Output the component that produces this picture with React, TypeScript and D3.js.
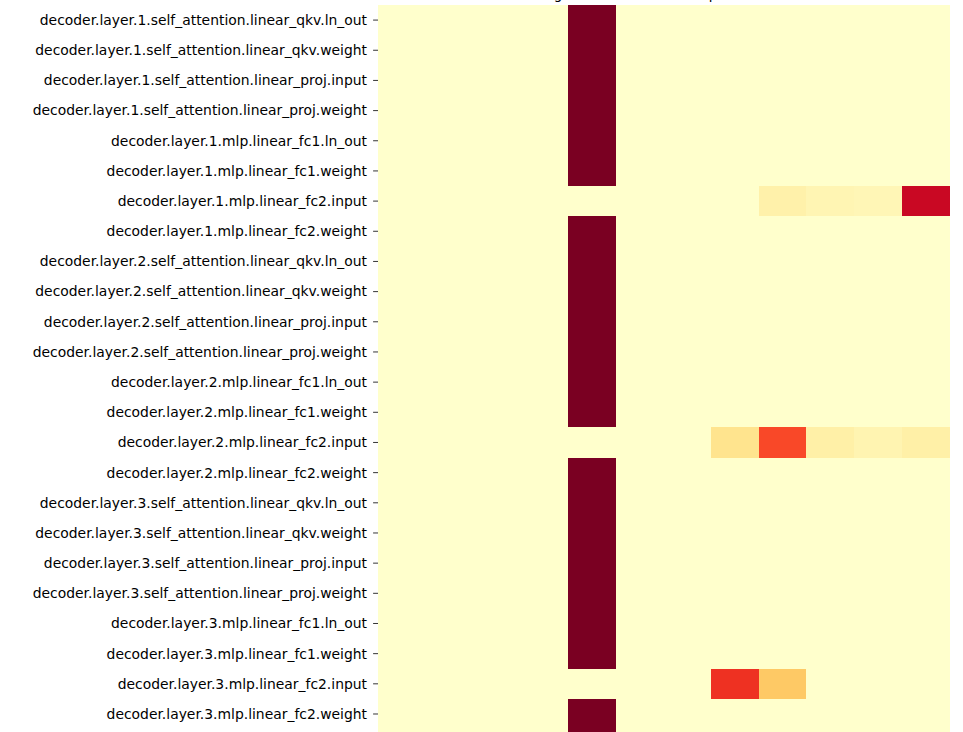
import React from "react";
import * as d3 from "d3";

const layers = [1, 2, 3, 4];
const tensorNames = [
  "self_attention.linear_qkv.ln_out",
  "self_attention.linear_qkv.weight",
  "self_attention.linear_proj.input",
  "self_attention.linear_proj.weight",
  "mlp.linear_fc1.ln_out",
  "mlp.linear_fc1.weight",
  "mlp.linear_fc2.input",
  "mlp.linear_fc2.weight",
];
const rowLabels: string[] = layers
  .flatMap((l) => tensorNames.map((t) => `decoder.layer.${l}.${t}`))
  .slice(0, 25);

const columns = d3.range(12);

// Normalized values per row (0..1)
const darkRow = [0, 0, 0, 0, 1, 0, 0, 0, 0, 0, 0, 0];
const fc2InputL1 = [0, 0, 0, 0, 0, 0, 0, 0, 0.097, 0.07, 0.062, 0.835];
const fc2InputL2 = [0, 0, 0, 0, 0, 0, 0, 0.18, 0.64, 0.104, 0.076, 0.104];
const fc2InputL3 = [0, 0, 0, 0, 0, 0, 0, 0.695, 0.3, 0, 0, 0];

const values: number[][] = rowLabels.map((lbl) => {
  if (lbl === "decoder.layer.1.mlp.linear_fc2.input") return fc2InputL1;
  if (lbl === "decoder.layer.2.mlp.linear_fc2.input") return fc2InputL2;
  if (lbl === "decoder.layer.3.mlp.linear_fc2.input") return fc2InputL3;
  return darkRow;
});

const titleText = "Log-scaled amax heatmap of tensors";

const ylorrd = ["#ffffcc", "#ffeda0", "#fed976", "#feb24c", "#fd8d3c", "#fc4e2a", "#e31a1c", "#bd0026", "#7a0022"];

export default function App() {
  const W = 963;
  const H = 732;
  const left = 378;
  const right = 949.2;
  const top = 5;
  const rowH = 30.17;

  const x = d3.scaleBand<number>().domain(columns).range([left, right]).padding(0);
  const y = d3
    .scaleBand<string>()
    .domain(rowLabels)
    .range([top, top + rowH * rowLabels.length])
    .padding(0);
  const color = d3
    .scaleLinear<string>()
    .domain(ylorrd.map((_, i) => i / (ylorrd.length - 1)))
    .range(ylorrd)
    .interpolate(d3.interpolateRgb)
    .clamp(true);

  const visibleLabels = rowLabels.filter(
    (r) => (y(r) as number) + y.bandwidth() / 2 + 8 < H
  );

  return (
    <svg
      width={W}
      height={H}
      style={{ position: "absolute", left: 0, top: 0, background: "#fff" }}
      fontFamily="DejaVu Sans, sans-serif"
    >
      <text x={663.5} y={-1} textAnchor="middle" fontSize={13.5} fill="#000">
        {titleText}
      </text>
      <g shapeRendering="crispEdges">
        {rowLabels.map((r, ri) =>
          columns.map((c) => (
            <rect
              key={`${r}-${c}`}
              x={x(c)}
              y={y(r)}
              width={x.bandwidth() + 0.3}
              height={y.bandwidth() + 0.3}
              fill={color(values[ri][c])}
            />
          ))
        )}
      </g>
      <g>
        {visibleLabels.map((r) => {
          const cy = (y(r) as number) + y.bandwidth() / 2;
          return (
            <g key={r}>
              <line x1={left - 4.9} x2={left} y1={cy} y2={cy} stroke="#000" strokeWidth={0.8} />
              <text
                x={left - 11}
                y={cy}
                dy="0.35em"
                textAnchor="end"
                fontSize={13.9}
                fill="#000"
              >
                {r}
              </text>
            </g>
          );
        })}
      </g>
    </svg>
  );
}
